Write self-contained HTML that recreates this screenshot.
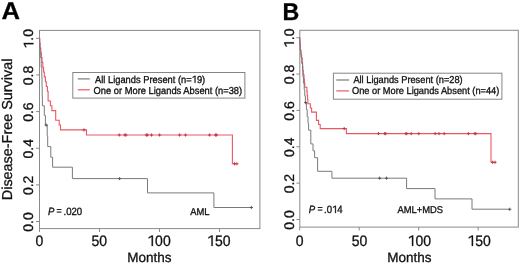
<!DOCTYPE html>
<html><head><meta charset="utf-8"><title>Kaplan-Meier</title><style>
html,body{margin:0;padding:0;background:#fff;width:520px;height:264px;overflow:hidden}
svg{display:block;will-change:transform}
text{font-family:"Liberation Sans",sans-serif;stroke:#111;stroke-width:0.3px;text-rendering:geometricPrecision}
.o1{fill:transparent;stroke:none}
</style></head><body>
<svg width="520" height="264" viewBox="0 0 520 264">
<rect width="520" height="264" fill="#fff"/>
<rect x="39.5" y="30.4" width="220.4" height="198.2" fill="none" stroke="#8a8a8a" stroke-width="1"/>
<g stroke="#8a8a8a" stroke-width="1"><line x1="36.1" y1="221.5" x2="39.5" y2="221.5"/><line x1="36.1" y1="184.86" x2="39.5" y2="184.86"/><line x1="36.1" y1="148.22" x2="39.5" y2="148.22"/><line x1="36.1" y1="111.58" x2="39.5" y2="111.58"/><line x1="36.1" y1="74.94" x2="39.5" y2="74.94"/><line x1="36.1" y1="38.3" x2="39.5" y2="38.3"/><line x1="39.45" y1="228.6" x2="39.45" y2="232"/><line x1="99.47" y1="228.6" x2="99.47" y2="232"/><line x1="159.5" y1="228.6" x2="159.5" y2="232"/><line x1="219.52" y1="228.6" x2="219.52" y2="232"/></g>
<g font-size="14" fill="#111"><text transform="translate(33.4,222) rotate(-90)" text-anchor="middle">0.0</text><text transform="translate(33.4,185.36) rotate(-90)" text-anchor="middle">0.2</text><text transform="translate(33.4,148.72) rotate(-90)" text-anchor="middle">0.4</text><text transform="translate(33.4,112.08) rotate(-90)" text-anchor="middle">0.6</text><text transform="translate(33.4,75.44) rotate(-90)" text-anchor="middle">0.8</text><text transform="translate(33.4,38.8) rotate(-90)" text-anchor="middle"><tspan class="o1">1</tspan>.0</text><text transform="translate(39.45,245.9) scale(1,1.08)" text-anchor="middle">0</text><text transform="translate(99.22,245.9) scale(1,1.08)" text-anchor="middle">50</text><text transform="translate(159,245.9) scale(1,1.08)" text-anchor="middle"><tspan class="o1">1</tspan>00</text><text transform="translate(218.77,245.9) scale(1,1.08)" text-anchor="middle"><tspan class="o1">1</tspan>50</text></g>
<text transform="translate(149.4,261.6) scale(1,1.0)" text-anchor="middle" font-size="13.5" fill="#111">Months</text>
<polyline points="39.5,38.3 39.7,38.3 39.7,43.12 40.2,43.12 40.2,47.94 40.8,47.94 40.8,52.76 41.4,52.76 41.4,57.58 42,57.58 42,62.4 42.8,62.4 42.8,67.22 43.6,67.22 43.6,72.04 44.3,72.04 44.3,76.86 45.4,76.86 45.4,81.68 46.3,81.68 46.3,86.5 47.4,86.5 47.4,91.32 48.1,91.32 48.1,100.96 50.4,100.96 50.4,105.78 51.9,105.78 51.9,110.6 55.7,110.6 55.7,120.24 59.2,120.24 59.2,125.06 60.5,125.06 60.5,129.88 86.5,129.88 86.5,135 232.4,135 232.4,163.8 237.3,163.8" fill="none" stroke="#ea5865" stroke-width="1.1"/>
<polyline points="39.5,38.3 39.7,38.3 39.7,47.94 40.3,47.94 40.3,57.58 41.2,57.58 41.2,67.22 41.8,67.22 41.8,76.86 42,76.86 42,86.5 42.2,86.5 42.2,96.14 42.4,96.14 42.4,105.78 44.3,105.78 44.3,115.42 45.4,115.42 45.4,125.06 47.2,125.06 47.2,135.8 47.7,135.8 47.7,146.6 50.8,146.6 50.8,157.2 52.6,157.2 52.6,167.2 72.4,167.2 72.4,178.6 147.5,178.6 147.5,192.9 213.9,192.9 213.9,207.5 251.4,207.5" fill="none" stroke="#7a7a7a" stroke-width="1"/>
<g stroke="#505050" stroke-width="0.9"><path d="M46.2 123.5V126.7M44.6 125.1H47.8"/><path d="M119.6 177V180.2M118 178.6H121.2"/><path d="M251.4 205.9V209.1M249.8 207.5H253"/></g>
<g stroke="#c03444" stroke-width="0.9"><path d="M84 128.3V131.5M82.4 129.9H85.6"/><path d="M119.3 133.4V136.6M117.7 135H120.9"/><path d="M124.9 133.4V136.6M123.3 135H126.5"/><path d="M125.9 133.4V136.6M124.3 135H127.5"/><path d="M146.4 133.4V136.6M144.8 135H148"/><path d="M147.4 133.4V136.6M145.8 135H149"/><path d="M151.5 133.4V136.6M149.9 135H153.1"/><path d="M159.6 133.4V136.6M158 135H161.2"/><path d="M179.6 133.4V136.6M178 135H181.2"/><path d="M185.5 133.4V136.6M183.9 135H187.1"/><path d="M209.6 133.4V136.6M208 135H211.2"/><path d="M215.5 133.4V136.6M213.9 135H217.1"/><path d="M216.6 133.4V136.6M215 135H218.2"/><path d="M234.5 162.2V165.4M232.9 163.8H236.1"/><path d="M236.9 162.2V165.4M235.3 163.8H238.5"/></g>
<rect x="72.8" y="72.5" width="172.1" height="25.6" fill="#fff" stroke="#858585" stroke-width="1"/>
<line x1="77.8" y1="78.9" x2="89.8" y2="78.9" stroke="#7a7a7a" stroke-width="1.2"/>
<line x1="77.8" y1="89.8" x2="89.8" y2="89.8" stroke="#ea5865" stroke-width="1.2"/>
<g font-size="9.33" fill="#111"><text transform="translate(95,82.8) scale(1,1.08)">All Ligands Present (n=<tspan class="o1">1</tspan>9)</text><text transform="translate(93.6,94.1) scale(1,1.08)">One or More Ligands Absent (n=38)</text></g>
<text transform="translate(0,215) scale(1,1.1)" font-size="9.6" fill="#111"><tspan x="48" font-style="italic">P</tspan><tspan x="56.5" dy="-1" font-size="8.8">=</tspan><tspan x="63.5" dy="1">.020</tspan></text>
<text transform="translate(190.3,214.6) scale(1,1.06)" font-size="9.4" fill="#111">AML</text>
<text transform="translate(1.6,19.2) scale(1.06,1)" font-size="24.2" font-weight="bold" fill="#000" stroke="#000" stroke-width="0.5">A</text>
<rect x="299.8" y="30.3" width="218.5" height="196.8" fill="none" stroke="#8a8a8a" stroke-width="1"/>
<g stroke="#8a8a8a" stroke-width="1"><line x1="296.4" y1="219.5" x2="299.8" y2="219.5"/><line x1="296.4" y1="183.14" x2="299.8" y2="183.14"/><line x1="296.4" y1="146.78" x2="299.8" y2="146.78"/><line x1="296.4" y1="110.42" x2="299.8" y2="110.42"/><line x1="296.4" y1="74.06" x2="299.8" y2="74.06"/><line x1="296.4" y1="37.7" x2="299.8" y2="37.7"/><line x1="299.7" y1="227.1" x2="299.7" y2="230.5"/><line x1="359.2" y1="227.1" x2="359.2" y2="230.5"/><line x1="418.7" y1="227.1" x2="418.7" y2="230.5"/><line x1="478.2" y1="227.1" x2="478.2" y2="230.5"/></g>
<g font-size="14" fill="#111"><text transform="translate(293.9,220) rotate(-90)" text-anchor="middle">0.0</text><text transform="translate(293.9,183.64) rotate(-90)" text-anchor="middle">0.2</text><text transform="translate(293.9,147.28) rotate(-90)" text-anchor="middle">0.4</text><text transform="translate(293.9,110.92) rotate(-90)" text-anchor="middle">0.6</text><text transform="translate(293.9,74.56) rotate(-90)" text-anchor="middle">0.8</text><text transform="translate(293.9,38.2) rotate(-90)" text-anchor="middle"><tspan class="o1">1</tspan>.0</text><text transform="translate(299.7,245.9) scale(1,1.08)" text-anchor="middle">0</text><text transform="translate(359.5,245.9) scale(1,1.08)" text-anchor="middle">50</text><text transform="translate(419.3,245.9) scale(1,1.08)" text-anchor="middle"><tspan class="o1">1</tspan>00</text><text transform="translate(479.1,245.9) scale(1,1.08)" text-anchor="middle"><tspan class="o1">1</tspan>50</text></g>
<text transform="translate(409.4,261.6) scale(1,1.0)" text-anchor="middle" font-size="13.5" fill="#111">Months</text>
<polyline points="299.6,37.7 299.8,37.7 299.8,41.83 300.1,41.83 300.1,45.96 300.4,45.96 300.4,50.1 300.9,50.1 300.9,54.23 301.6,54.23 301.6,58.36 302.2,58.36 302.2,62.49 302.6,62.49 302.6,66.62 302.9,66.62 302.9,70.76 303.3,70.76 303.3,74.89 304,74.89 304,79.02 304.4,79.02 304.4,83.15 304.8,83.15 304.8,87.28 306.9,87.28 306.9,91.42 307.2,91.42 307.2,95.55 307.6,95.55 307.6,99.68 307.9,99.68 307.9,103.81 310.3,103.81 310.3,107.94 311.6,107.94 311.6,112.08 316.4,112.08 316.4,120.34 318.6,120.34 318.6,124.47 320.2,124.47 320.2,128.6 346.4,128.6 346.4,133.6 491,133.6 491,162.3 496,162.3" fill="none" stroke="#ea5865" stroke-width="1.1"/>
<polyline points="299.6,37.7 299.8,37.7 299.8,44.19 300.3,44.19 300.3,50.68 301,50.68 301,57.17 301.8,57.17 301.8,63.66 302.5,63.66 302.5,70.15 302.9,70.15 302.9,76.64 303.4,76.64 303.4,83.13 304.2,83.13 304.2,89.62 304.8,89.62 304.8,96.11 305.4,96.11 305.4,102.6 306.4,102.6 306.4,109.5 307.2,109.5 307.2,116.4 308,116.4 308,123.3 308.6,123.3 308.6,130.2 310.8,130.2 310.8,143.9 313,143.9 313,150.8 314.6,150.8 314.6,157.7 317.6,157.7 317.6,171.3 331.9,171.3 331.9,178.2 406.6,178.2 406.6,188.6 435,188.6 435,198.9 472,198.9 472,209.2 509.8,209.2" fill="none" stroke="#7a7a7a" stroke-width="1"/>
<g stroke="#505050" stroke-width="0.9"><path d="M305.6 101V104.2M304 102.6H307.2"/><path d="M379.6 176.6V179.8M378 178.2H381.2"/><path d="M386.5 176.6V179.8M384.9 178.2H388.1"/><path d="M509.8 207.7V210.9M508.2 209.3H511.4"/></g>
<g stroke="#c03444" stroke-width="0.9"><path d="M344.2 127V130.2M342.6 128.6H345.8"/><path d="M378.5 132V135.2M376.9 133.6H380.1"/><path d="M384.7 132V135.2M383.1 133.6H386.3"/><path d="M385.7 132V135.2M384.1 133.6H387.3"/><path d="M405.8 132V135.2M404.2 133.6H407.4"/><path d="M406.8 132V135.2M405.2 133.6H408.4"/><path d="M411.2 132V135.2M409.6 133.6H412.8"/><path d="M418.8 132V135.2M417.2 133.6H420.4"/><path d="M435.2 132V135.2M433.6 133.6H436.8"/><path d="M439 132V135.2M437.4 133.6H440.6"/><path d="M444.2 132V135.2M442.6 133.6H445.8"/><path d="M468.4 132V135.2M466.8 133.6H470"/><path d="M474.8 132V135.2M473.2 133.6H476.4"/><path d="M475.8 132V135.2M474.2 133.6H477.4"/><path d="M492.6 160.7V163.9M491 162.3H494.2"/><path d="M495 160.7V163.9M493.4 162.3H496.6"/></g>
<rect x="333.4" y="73.2" width="168.5" height="26" fill="#fff" stroke="#858585" stroke-width="1"/>
<line x1="336.3" y1="80" x2="349.1" y2="80" stroke="#7a7a7a" stroke-width="1.2"/>
<line x1="336.3" y1="90.9" x2="349.1" y2="90.9" stroke="#ea5865" stroke-width="1.2"/>
<g font-size="9.25" fill="#111"><text transform="translate(353.4,83.3) scale(1,1.08)">All Ligands Present (n=28)</text><text transform="translate(352,94.3) scale(1,1.08)">One or More Ligands Absent (n=44)</text></g>
<text transform="translate(0,213) scale(1,1.1)" font-size="9.6" fill="#111"><tspan x="308.8" font-style="italic">P</tspan><tspan x="317.5" dy="-1" font-size="8.8">=</tspan><tspan x="324" dy="1">.0<tspan class="o1">1</tspan>4</tspan></text>
<text transform="translate(397.5,212.6) scale(1,1.06)" font-size="9.4" fill="#111">AML+MDS</text>
<text transform="translate(282.6,19.5) scale(0.96,1)" font-size="24.2" font-weight="bold" fill="#000" stroke="#000" stroke-width="0.5">B</text>
<text transform="translate(11.9,129.4) rotate(-90)" text-anchor="middle" font-size="14.4" fill="#111">Disease-Free Survival</text>
<path d="M640 0L640 1230L205 1005L205 1175L655 1409L818 1409L818 0Z" transform="translate(33.4,38.8) rotate(-90) translate(-9.742,0.000) scale(0.006836,-0.006836)" fill="#111" stroke="#111" stroke-width="43.9"/>
<path d="M640 0L640 1230L205 1005L205 1175L655 1409L818 1409L818 0Z" transform="translate(159,245.9) scale(1,1.08) translate(-11.688,0.000) scale(0.006836,-0.006836)" fill="#111" stroke="#111" stroke-width="43.9"/>
<path d="M640 0L640 1230L205 1005L205 1175L655 1409L818 1409L818 0Z" transform="translate(218.77,245.9) scale(1,1.08) translate(-11.688,0.000) scale(0.006836,-0.006836)" fill="#111" stroke="#111" stroke-width="43.9"/>
<path d="M640 0L640 1230L205 1005L205 1175L655 1409L818 1409L818 0Z" transform="translate(95,82.8) scale(1,1.08) translate(96.719,0.000) scale(0.004556,-0.004556)" fill="#111" stroke="#111" stroke-width="65.9"/>
<path d="M640 0L640 1230L205 1005L205 1175L655 1409L818 1409L818 0Z" transform="translate(293.9,38.2) rotate(-90) translate(-9.742,0.000) scale(0.006836,-0.006836)" fill="#111" stroke="#111" stroke-width="43.9"/>
<path d="M640 0L640 1230L205 1005L205 1175L655 1409L818 1409L818 0Z" transform="translate(419.3,245.9) scale(1,1.08) translate(-11.688,0.000) scale(0.006836,-0.006836)" fill="#111" stroke="#111" stroke-width="43.9"/>
<path d="M640 0L640 1230L205 1005L205 1175L655 1409L818 1409L818 0Z" transform="translate(479.1,245.9) scale(1,1.08) translate(-11.688,0.000) scale(0.006836,-0.006836)" fill="#111" stroke="#111" stroke-width="43.9"/>
<path d="M640 0L640 1230L205 1005L205 1175L655 1409L818 1409L818 0Z" transform="translate(0,213) scale(1,1.1) translate(332.016,0.000) scale(0.004687,-0.004687)" fill="#111" stroke="#111" stroke-width="64.0"/>
</svg>
</body></html>
